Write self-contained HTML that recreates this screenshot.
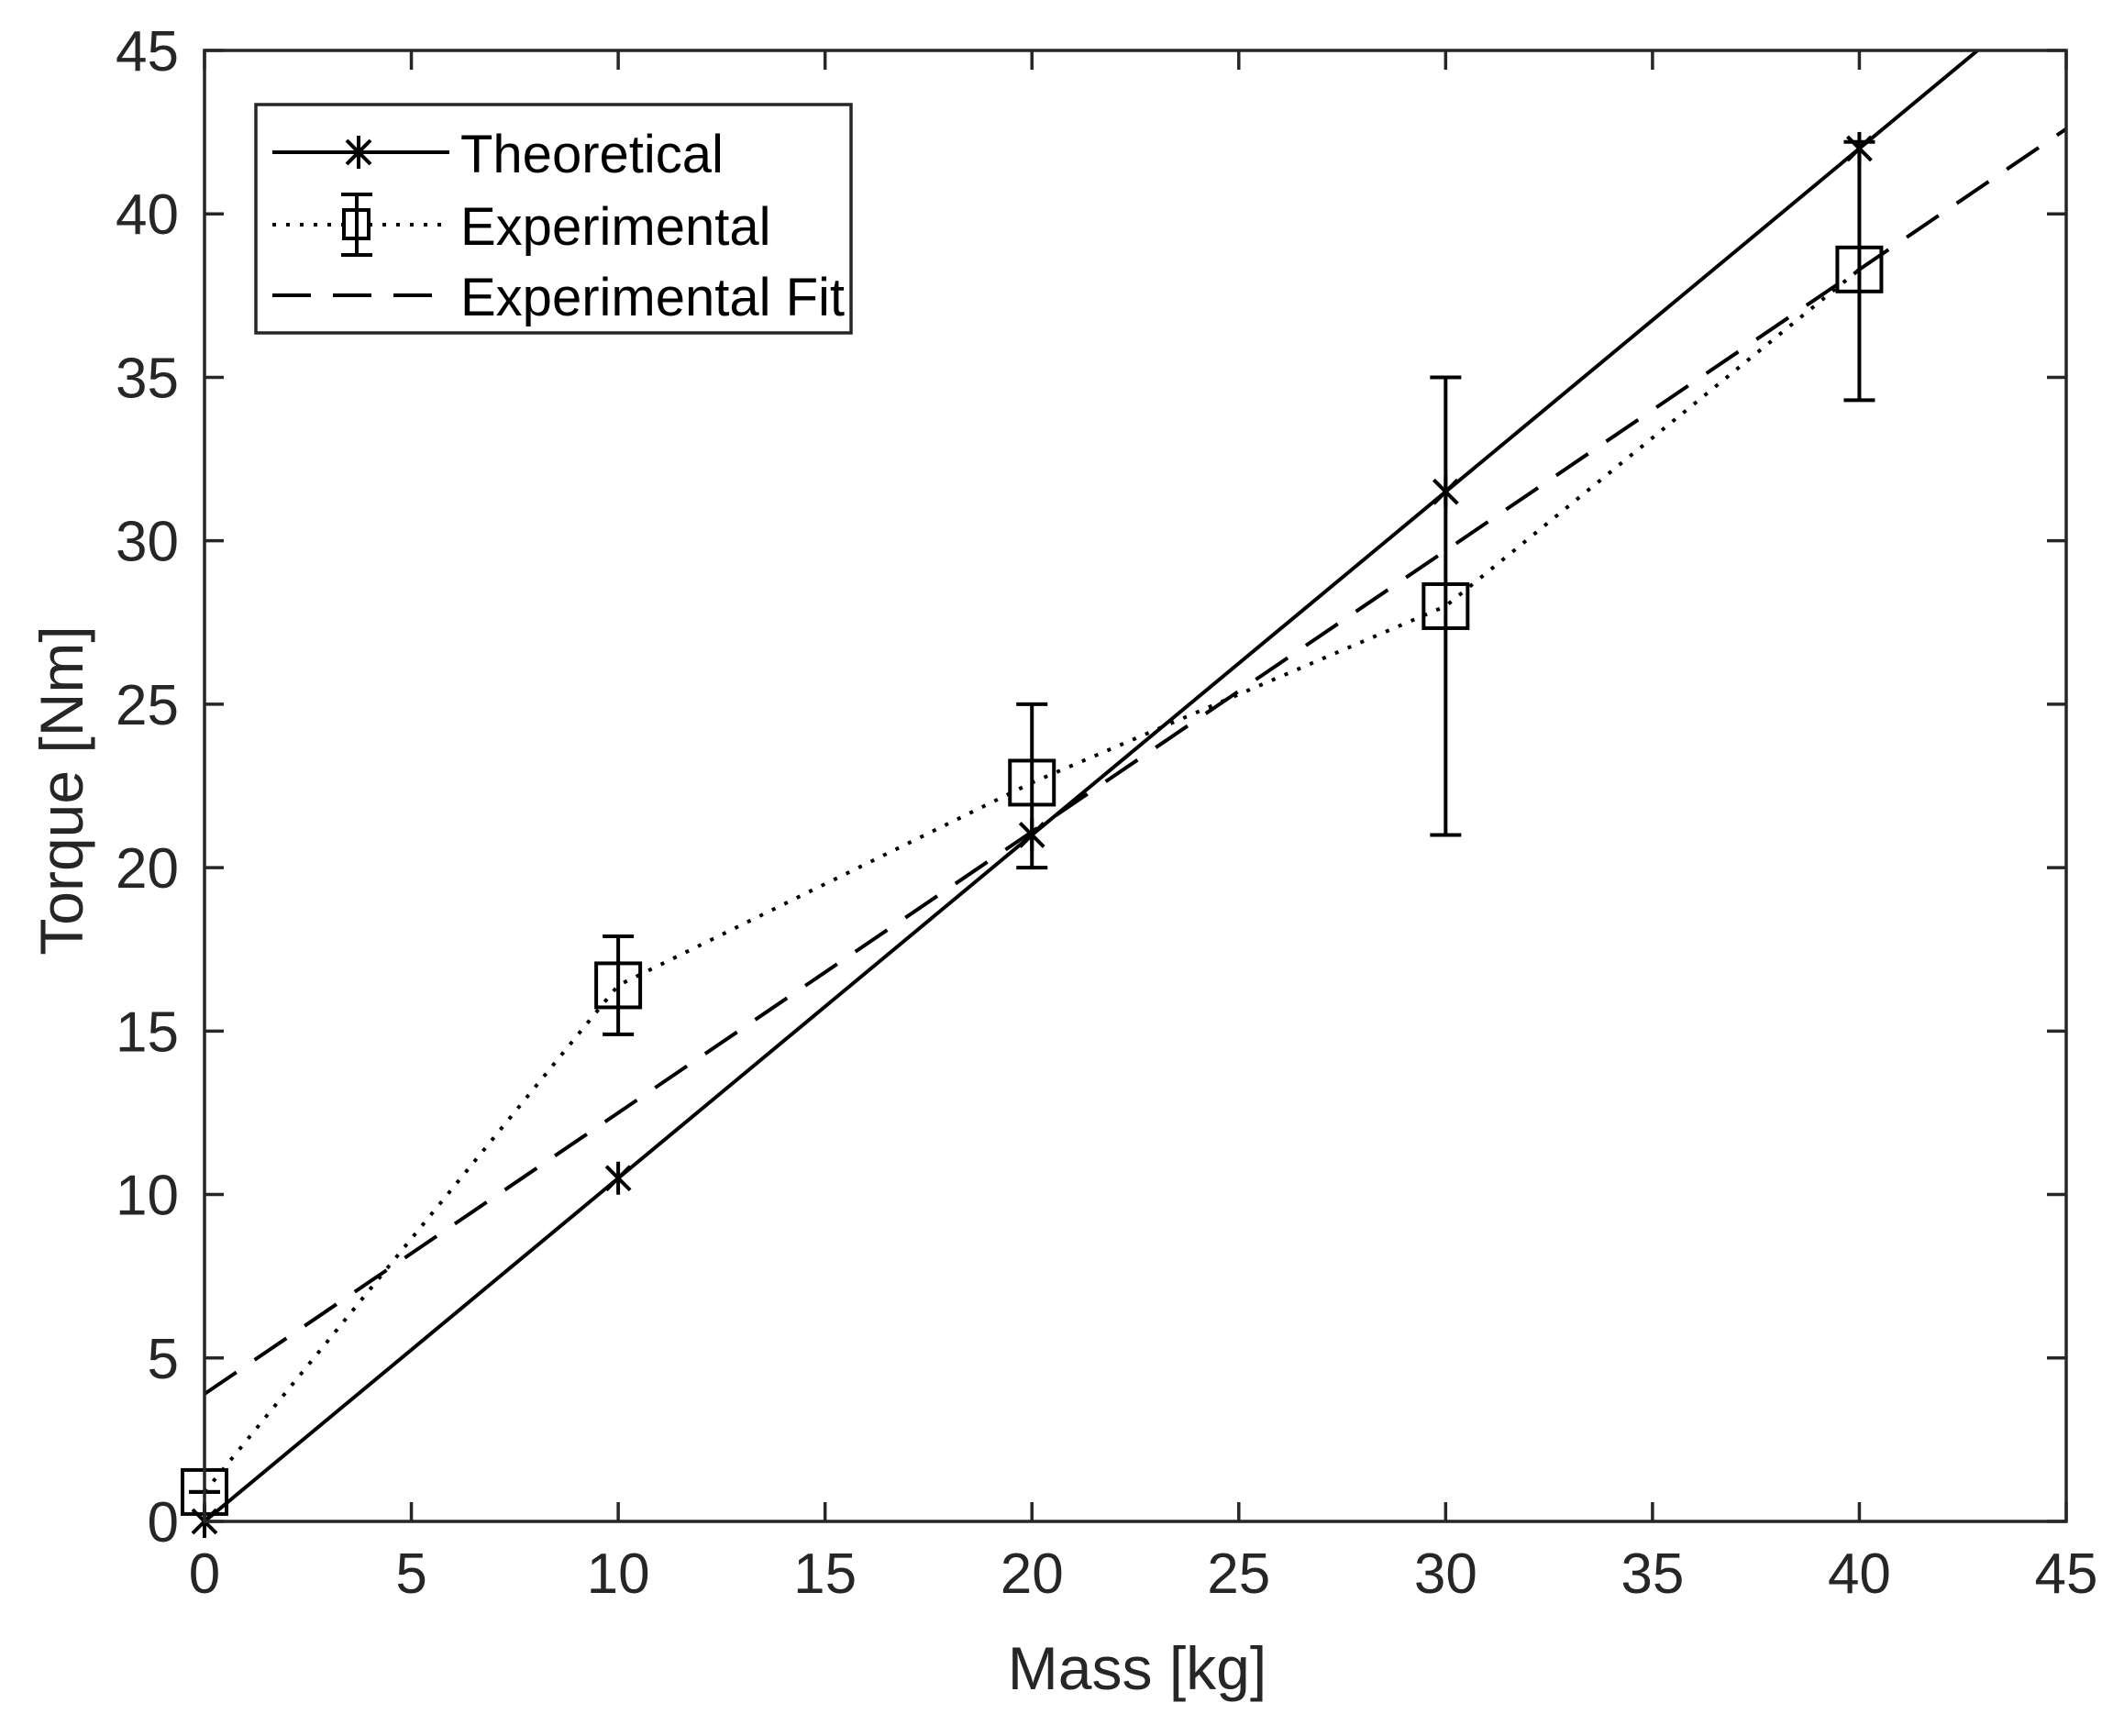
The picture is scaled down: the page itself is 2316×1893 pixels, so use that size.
<!DOCTYPE html>
<html><head><meta charset="utf-8"><style>
html,body{margin:0;padding:0;background:#fff}
svg{display:block;font-family:"Liberation Sans",Arial,sans-serif}
</style></head><body>
<svg id="chart" width="2316" height="1893" viewBox="0 0 2316 1893" style="position:absolute;left:0;top:0">
<rect width="2316" height="1893" fill="#fff"/>
<g id="plot"></g>
<text x="1240" y="1842" text-anchor="middle" font-size="66" fill="#262626">Mass [kg]</text>
<text x="0" y="0" transform="translate(90,862) rotate(-90)" text-anchor="middle" font-size="66" fill="#262626">Torque [Nm]</text>
<g>
<rect x="279" y="114" width="649" height="249" fill="#fff" stroke="#262626" stroke-width="3.5"/>
<g>
<line x1="297" y1="166" x2="490" y2="166" stroke="#000" stroke-width="4"/>
<g stroke="#000" stroke-width="4"><line x1="391" y1="148" x2="391" y2="184"/><line x1="378" y1="153" x2="404" y2="179"/><line x1="378" y1="179" x2="404" y2="153"/></g>
<text x="502" y="188" font-size="58" fill="#000">Theoretical</text>
</g>
<g>
<line x1="297" y1="245" x2="490" y2="245" stroke="#000" stroke-width="4" stroke-dasharray="4,11"/>
<g stroke="#000" stroke-width="4" fill="none"><line x1="389" y1="212" x2="389" y2="278"/><line x1="372" y1="212" x2="406" y2="212"/><line x1="372" y1="278" x2="406" y2="278"/><rect x="375" y="229" width="27" height="31" fill="#fff"/><line x1="389" y1="229" x2="389" y2="260"/></g>
<text x="502" y="267" font-size="58" fill="#000">Experimental</text>
</g>
<g>
<line x1="297" y1="322" x2="490" y2="322" stroke="#000" stroke-width="4" stroke-dasharray="42,24"/>
<text x="502" y="344" font-size="58" fill="#000">Experimental Fit</text>
</g>
</g>
</svg>
<script>
const xValues=[0,10,20,30,40];
const theoretical=[0,10.5,21,31.5,42];
const experimental=[0.9,16.4,22.6,28,38.3];
const errLow=[0.9,14.9,20,21,34.3];
const errHigh=[0.9,17.9,25,35,42.2];
const fitIntercept=3.9;
const fitSlope=0.86;
const theorySlope=1.05;
const xTicks=[0,5,10,15,20,25,30,35,40,45];
const yTicks=[0,5,10,15,20,25,30,35,40,45];

const L=223,R=2253,T=55,B=1659;
const sx=v=>L+(v/45)*(R-L);
const sy=v=>B-(v/45)*(B-T);
const NS='http://www.w3.org/2000/svg';
const g=document.getElementById('plot');
function mk(tag,attrs,parent){const e=document.createElementNS(NS,tag);for(const k in attrs)e.setAttribute(k,attrs[k]);(parent||g).appendChild(e);return e;}

const defs=mk('defs',{});
const cp=mk('clipPath',{id:'clip'},defs);
mk('rect',{x:L,y:T,width:R-L,height:B-T},cp);
const data=mk('g',{'clip-path':'url(#clip)'});

let e=mk('line',{x1:sx(0),y1:sy(fitIntercept),x2:sx(45),y2:sy(fitIntercept+fitSlope*45),stroke:'#000','stroke-width':4,'stroke-dasharray':'42,24'},data);


e=mk('line',{x1:sx(0),y1:sy(0),x2:sx(45),y2:sy(theorySlope*45),stroke:'#000','stroke-width':4},data);


e=mk('polyline',{points:xValues.map((x,i)=>sx(x)+','+sy(experimental[i])).join(' '),fill:'none',stroke:'#000','stroke-width':4,'stroke-dasharray':'4,11'},data);



xValues.forEach((x,i)=>{
  const cx=sx(x);
  const eb=mk('g',{stroke:'#000','stroke-width':4,fill:'none'});
  
  
  mk('line',{x1:cx,y1:sy(errLow[i]),x2:cx,y2:sy(errHigh[i])},eb);
  mk('line',{x1:cx-17,y1:sy(errLow[i]),x2:cx+17,y2:sy(errLow[i])},eb);
  mk('line',{x1:cx-17,y1:sy(errHigh[i]),x2:cx+17,y2:sy(errHigh[i])},eb);
  const cy=sy(experimental[i]);
  const sq=mk('rect',{x:cx-24,y:cy-24,width:48,height:48,fill:'none',stroke:'#000','stroke-width':4});
  
  
  const ty=sy(theoretical[i]);
  const st=mk('g',{stroke:'#000','stroke-width':4});
  
  
  mk('line',{x1:cx,y1:ty-18,x2:cx,y2:ty+18},st);
  mk('line',{x1:cx-13,y1:ty-13,x2:cx+13,y2:ty+13},st);
  mk('line',{x1:cx-13,y1:ty+13,x2:cx+13,y2:ty-13},st);
});

e=mk('rect',{x:L,y:T,width:R-L,height:B-T,fill:'none',stroke:'#262626','stroke-width':3.5});


xTicks.forEach(v=>{
  const x=sx(v);
  mk('line',{x1:x,y1:B,x2:x,y2:B-21,stroke:'#262626','stroke-width':3.5});
  mk('line',{x1:x,y1:T,x2:x,y2:T+21,stroke:'#262626','stroke-width':3.5});
  const t=mk('text',{x:x,y:B+78,'text-anchor':'middle','font-size':62,fill:'#262626'});
  t.textContent=v;
  
  
});
yTicks.forEach(v=>{
  const y=sy(v);
  mk('line',{x1:L,y1:y,x2:L+21,y2:y,stroke:'#262626','stroke-width':3.5});
  mk('line',{x1:R,y1:y,x2:R-21,y2:y,stroke:'#262626','stroke-width':3.5});
  const t=mk('text',{x:L-28,y:y+22,'text-anchor':'end','font-size':62,fill:'#262626'});
  t.textContent=v;
  
  
});
</script>
</body></html>
